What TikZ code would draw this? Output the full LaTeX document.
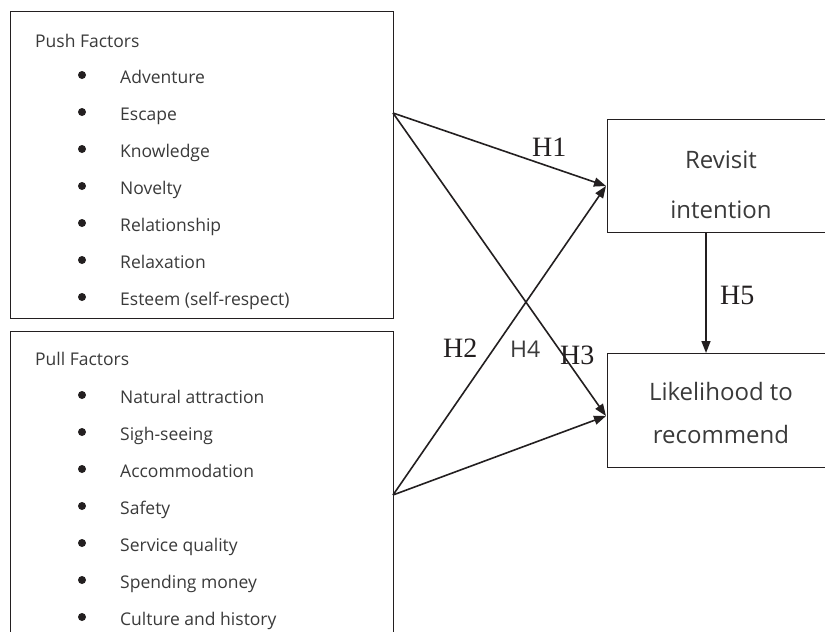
\documentclass[tikz,border=0pt]{standalone}
\usepackage{fontspec}
\usepackage{graphicx}
\setmainfont{Open Sans}
\newfontfamily\labelserif{Liberation Serif}
\usetikzlibrary{arrows.meta}
\definecolor{txt}{HTML}{3A3A3A}
\definecolor{ink}{HTML}{231F20}
\begin{document}
\begin{tikzpicture}[x=1pt,y=-1pt,
  box/.style={draw=ink,line width=1.3pt,inner sep=0pt,anchor=north west},
  item/.style={anchor=base west,inner sep=0pt,text=txt,font=\fontsize{17.5}{21}\selectfont},
  title/.style={anchor=base,inner sep=0pt,text=txt,font=\fontsize{24}{28}\selectfont},
  hlab/.style={anchor=base west,inner sep=0pt,text=ink,font=\labelserif\fontsize{28}{32}\selectfont},
  hsans/.style={anchor=base west,inner sep=0pt,text=txt,font=\fontsize{23}{27}\selectfont},
  link/.style={draw=ink,line width=1.6pt,-{Triangle[length=12pt,width=9pt]}},
  dot/.style={circle,fill=ink,inner sep=0pt,minimum size=8pt}]
\path[use as bounding box,clip] (0,0) rectangle (825,632);
\fill[white] (0,0) rectangle (825,632);
% boxes
\node[box,minimum width=383pt,minimum height=307pt] (push) at (10,11) {};
\node[box,minimum width=383pt,minimum height=330pt] (pull) at (10,331) {};
\node[box,minimum width=228pt,minimum height=113pt] (revisit) at (607,119) {};
\node[box,minimum width=228pt,minimum height=114pt] (likely) at (607,353) {};
% push factors
\node[item] (pushtitle) at (35,47) {Push Factors};
\foreach \t [count=\i] in {Adventure,Escape,Knowledge,Novelty,Relationship,Relaxation,{Esteem (self-respect)}}{
  \node[item] (push\i) at (120,{46+37*\i}) {\t};
  \node[dot] (pushdot\i) at (82,{38+37*\i}) {};
}
% pull factors
\node[item] (pulltitle) at (35,365) {Pull Factors};
\foreach \t [count=\i] in {Natural attraction,Sigh-seeing,Accommodation,Safety,Service quality,Spending money,Culture and history}{
  \node[item] (pull\i) at (120,{366+37*\i}) {\t};
  \node[dot] (pulldot\i) at (82,{358+37*\i}) {};
}
% outcome texts
\node[title] (rv1) at (721,168) {Revisit};
\node[title] (rv2) at (721,218) {intention};
\node[title] (lk1) at (721,400) {Likelihood to};
\node[title] (lk2) at (721,443) {recommend};
% connector points
\coordinate (pushout) at (393,113);
\coordinate (pullout) at (393,495);
\coordinate (rin) at (606,186);
\coordinate (lin) at (606,416);
\coordinate (h5x) at (706,0);
% arrows
\draw[link] (pushout) -- (rin);
\draw[link] (pullout) -- (rin);
\draw[link] (pushout) -- (lin);
\draw[link] (pullout) -- (lin);
\draw[link] (revisit.south -| h5x) -- (likely.north -| h5x);
% labels
\node[hlab] (h1) at (532,156) {H1};
\node[hlab] (h2) at (443,357) {H2};
\node[hsans] (h4) at (510,357) {H4};
\node[hlab] (h3) at (560,364) {H3};
\node[hlab] (h5) at (720,304) {H5};
\end{tikzpicture}
\end{document}
